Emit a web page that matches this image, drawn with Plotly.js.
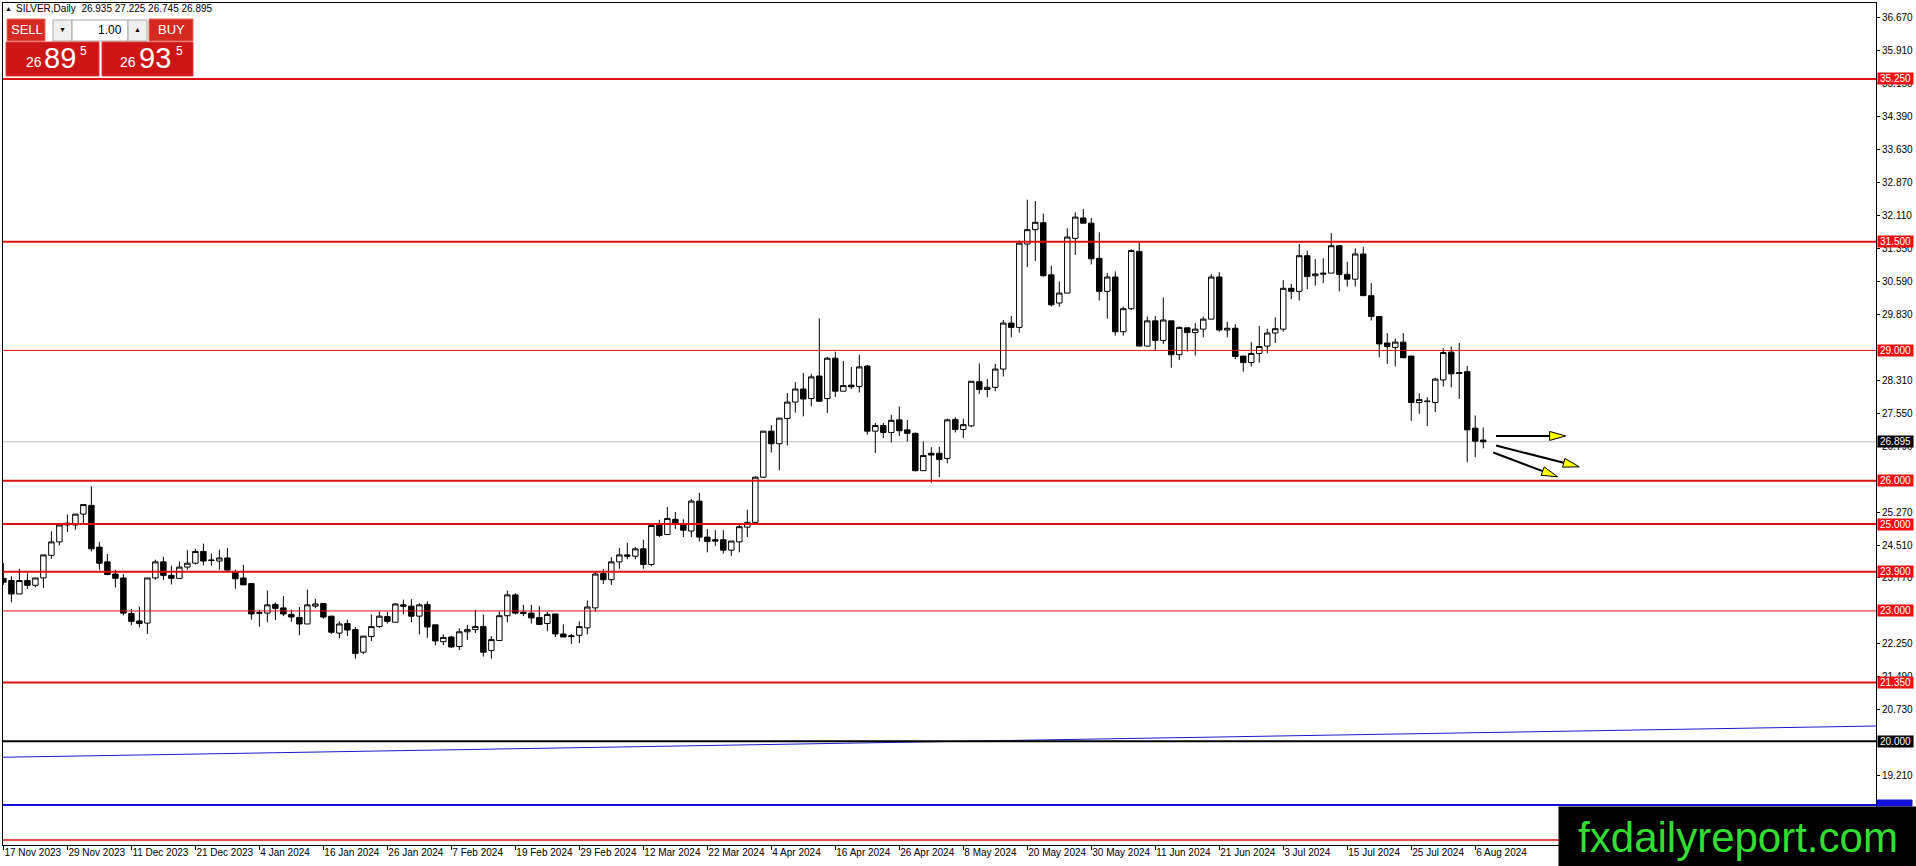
<!DOCTYPE html>
<html><head><meta charset="utf-8">
<script src="https://cdn.plot.ly/plotly-3.0.1.min.js"></script>
<style>html,body{margin:0;padding:0;background:#fff;overflow:hidden}#chart{width:1916px;height:866px}</style>
</head><body><div id="chart"></div>
<script>
// ---------------- DATA ----------------
const symbolTitle = 'SILVER,Daily';
const startDate = '2023-11-17';
const marketHolidays = ['2023-12-25', '2024-01-01', '2024-03-29'];
const tickDates = ['2023-11-17','2023-11-29','2023-12-11','2023-12-21','2024-01-04','2024-01-16','2024-01-26','2024-02-07','2024-02-19','2024-02-29','2024-03-12','2024-03-22','2024-04-04','2024-04-16','2024-04-26','2024-05-08','2024-05-20','2024-05-30','2024-06-11','2024-06-21','2024-07-03','2024-07-15','2024-07-25','2024-08-06'];
const tickLabels = ['17 Nov 2023','29 Nov 2023','11 Dec 2023','21 Dec 2023','4 Jan 2024','16 Jan 2024','26 Jan 2024','7 Feb 2024','19 Feb 2024','29 Feb 2024','12 Mar 2024','22 Mar 2024','4 Apr 2024','16 Apr 2024','26 Apr 2024','8 May 2024','20 May 2024','30 May 2024','11 Jun 2024','21 Jun 2024','3 Jul 2024','15 Jul 2024','25 Jul 2024','6 Aug 2024'];

const open = [23.75,23.70,23.39,23.70,23.59,23.76,24.28,24.59,24.98,24.98,25.23,25.43,24.47,24.13,23.85,23.76,22.94,22.77,22.72,23.76,
24.13,23.82,23.75,24.01,24.10,24.37,24.16,24.15,24.22,23.89,23.76,23.63,22.96,22.95,23.15,23.07,22.92,22.85,22.70,23.11,
23.17,22.88,22.49,22.71,22.57,22.05,22.41,22.64,22.87,22.74,23.14,23.11,22.88,23.15,22.68,22.29,22.40,22.18,22.52,22.57,
22.64,22.09,22.32,22.89,23.37,22.97,22.95,22.85,22.71,22.93,22.47,22.43,22.44,22.61,23.07,23.86,23.72,24.13,24.29,24.26,
24.43,24.07,24.97,24.76,25.11,25.01,24.84,25.53,24.70,24.64,24.64,24.40,24.59,24.93,25.04,26.08,27.14,26.85,27.43,27.81,
28.11,27.89,28.41,27.89,28.82,28.06,28.20,28.17,28.64,27.14,27.27,27.11,27.40,27.17,27.09,26.23,26.63,26.63,26.51,27.41,
27.18,27.26,28.28,28.10,28.15,28.57,29.63,29.53,31.45,31.78,31.94,30.74,30.09,30.32,31.58,32.05,31.93,31.12,30.36,30.69,
29.43,29.96,31.28,29.10,29.68,29.23,29.68,28.90,29.52,29.41,29.49,29.72,30.69,29.47,29.51,28.87,28.72,28.93,29.10,29.40,
29.49,30.43,30.36,31.18,30.72,30.78,30.78,31.41,30.75,30.64,31.22,30.26,29.78,29.17,29.07,29.19,28.87,27.80,27.82,27.80,
28.32,28.96,28.49,28.51,27.21,26.935];
const high = [24.10,23.80,23.97,23.87,23.76,24.29,24.83,24.98,25.22,25.23,25.45,25.87,24.59,24.31,23.95,23.85,23.05,23.10,23.76,24.18,
24.25,24.04,24.14,24.40,24.43,24.55,24.32,24.41,24.45,23.95,24.06,23.63,23.03,23.47,23.19,23.34,23.03,23.09,23.49,23.28,
23.17,22.88,22.76,22.80,22.63,22.42,22.92,22.99,22.98,23.18,23.26,23.27,23.18,23.22,22.68,22.46,22.42,22.60,22.68,23.03,
22.92,22.42,22.99,23.47,23.41,23.14,23.14,23.11,22.98,22.93,22.69,22.47,22.76,23.24,23.89,23.97,24.24,24.45,24.57,24.47,
24.64,24.97,25.10,25.39,25.28,25.11,25.58,25.72,24.89,24.86,24.86,24.61,24.98,25.33,26.10,27.14,27.28,27.44,28.02,28.27,
28.48,28.46,29.74,28.85,28.97,28.76,28.62,28.90,28.66,27.33,27.33,27.52,27.71,27.40,27.11,26.90,26.77,26.78,27.43,27.46,
27.43,28.29,28.70,28.34,28.69,29.70,29.79,31.53,32.47,32.44,32.15,30.95,30.59,31.81,32.18,32.26,32.05,31.72,30.78,30.82,
30.01,31.33,31.48,29.78,29.79,30.22,29.68,29.55,29.52,29.63,29.78,30.76,30.80,29.66,29.60,28.87,29.19,29.56,29.50,29.76,
30.62,30.53,31.45,31.30,31.10,31.12,31.70,31.41,31.04,31.35,31.39,30.55,29.79,29.40,29.27,29.40,28.87,28.01,27.92,28.37,
29.05,29.09,29.17,28.64,27.50,27.225];
const low = [23.60,23.20,23.39,23.51,23.54,23.53,24.20,24.51,24.82,24.87,25.02,24.37,23.94,23.82,23.54,22.90,22.67,22.62,22.47,23.72,
23.71,23.61,23.74,23.95,24.07,24.05,24.04,23.95,23.91,23.51,23.60,22.80,22.64,22.74,22.79,22.88,22.75,22.44,22.70,23.06,
22.82,22.47,22.37,22.42,21.90,22.01,22.31,22.61,22.71,22.73,22.92,22.74,22.46,22.38,22.21,22.21,22.15,22.10,22.33,22.49,
21.95,21.90,22.31,22.74,22.92,22.88,22.71,22.69,22.53,22.40,22.40,22.24,22.26,22.46,22.98,23.62,23.60,23.97,24.19,24.19,
23.97,24.03,24.70,24.75,24.89,24.70,24.70,24.60,24.35,24.50,24.32,24.27,24.35,24.70,25.04,26.06,26.65,26.24,26.81,27.57,
27.48,27.71,27.83,27.56,27.93,28.06,28.11,28.03,27.06,26.64,26.98,26.88,27.03,26.90,26.21,26.23,25.95,26.08,26.40,27.11,
26.98,27.23,28.00,27.92,28.06,28.40,29.30,29.41,30.92,31.06,30.70,30.01,30.01,30.32,31.20,31.93,30.98,30.15,29.73,29.34,
29.34,29.93,29.09,29.09,29.00,29.15,28.60,28.78,28.97,28.88,29.30,29.72,29.43,29.30,28.80,28.51,28.63,28.72,28.93,29.17,
29.43,30.18,30.15,30.41,30.49,30.55,30.78,30.36,30.47,30.47,30.26,29.69,28.84,28.69,28.63,28.83,27.38,27.54,27.26,27.58,
28.17,28.15,27.88,26.42,26.54,26.745];
const close = [23.66,23.39,23.70,23.59,23.76,24.29,24.59,24.98,25.02,25.23,25.45,24.43,24.10,23.84,23.75,22.95,22.76,22.71,23.76,24.13,
23.82,23.75,24.01,24.10,24.37,24.15,24.17,24.22,23.94,23.74,23.60,22.93,22.95,23.14,23.06,22.93,22.86,22.70,23.14,23.16,
22.86,22.51,22.70,22.56,22.02,22.42,22.64,22.88,22.76,23.16,23.11,22.88,23.14,22.63,22.31,22.39,22.17,22.52,22.57,22.64,
22.05,22.34,22.89,23.37,22.95,22.94,22.84,22.69,22.92,22.47,22.40,22.41,22.64,23.09,23.85,23.72,24.13,24.29,24.26,24.43,
24.07,24.97,24.74,25.13,25.01,24.86,25.53,24.70,24.60,24.61,24.40,24.61,24.94,25.04,26.08,27.14,26.85,27.44,27.81,28.11,
27.88,28.39,27.83,28.82,28.06,28.19,28.16,28.62,27.14,27.27,27.11,27.39,27.15,27.09,26.23,26.58,26.59,26.49,27.40,27.18,
27.29,28.29,28.10,28.15,28.57,29.63,29.53,31.47,31.78,31.95,30.72,30.05,30.32,31.61,32.07,31.93,31.11,30.36,30.69,29.43,
29.96,31.30,29.10,29.68,29.23,29.70,28.90,29.53,29.41,29.49,29.72,30.69,29.47,29.51,28.86,28.72,28.93,29.09,29.40,29.50,
30.43,30.36,31.18,30.70,30.76,30.76,31.41,30.75,30.64,31.22,30.26,29.78,29.15,29.09,29.19,28.83,27.80,27.87,27.83,28.34,
28.95,28.46,28.47,27.17,26.91,26.895];

const redLevels = [35.25, 31.5, 29.0, 26.0, 25.0, 23.9, 23.0, 21.35];
const thinRedLevels = [29.0, 23.0];
const lowerRedLevel = 17.725;
const blackLevel = 20.0;
const blueLevel = 18.53;
const trendLineStartEnd = [19.63, 20.35];
const currentPrice = 26.895;
const askPrice = 26.935;
const yTickValues = [36.67,35.91,35.15,34.39,33.63,32.87,32.11,31.35,30.59,29.83,28.31,27.55,26.79,25.27,24.51,23.77,22.25,21.49,20.73,19.21];
// forecast arrows: [startBar, startPrice, tipBar, tipPrice]
const forecastArrows = [[186.6, 27.03, 195.3, 27.03], [186.6, 26.81, 197.0, 26.32], [186.25, 26.65, 194.3, 26.09]];
const watermarkText = 'fxdailyreport.com';

// ---------------- BUILD ----------------
function buildDates(start, n, holidays) {
  const out = []; const d = new Date(start + 'T00:00:00Z');
  while (out.length < n) {
    const wd = d.getUTCDay(); const iso = d.toISOString().slice(0, 10);
    if (wd !== 0 && wd !== 6 && !holidays.includes(iso)) out.push(iso);
    d.setUTCDate(d.getUTCDate() + 1);
  }
  return out;
}
const dates = buildDates(startDate, close.length, marketHolidays);

const W = 1916, H = 866, ML = 3, MR = 40, MT = 3, MB = 21;
const PW = W - ML - MR, PH = H - MT - MB;
const xr = [-0.05, 234.1], yr = [17.61, 37.0];
const px = x => (x - ML) / PW;
const py = y => (MT + PH - y) / PH;
const pxPerX = PW / (xr[1] - xr[0]), pxPerY = PH / (yr[1] - yr[0]);
const FONT = 'Liberation Sans, Arial, sans-serif';

const trace = {
  type: 'candlestick', x: dates, open: open, high: high, low: low, close: close,
  increasing: {line: {color: '#000', width: 1}, fillcolor: '#ffffff'},
  decreasing: {line: {color: '#000', width: 1}, fillcolor: '#000000'},
  whiskerwidth: 0, hoverinfo: 'none', showlegend: false
};

const shapes = [];
const annotations = [];
shapes.push({type: 'line', xref: 'paper', x0: 0, x1: 1, yref: 'y', y0: currentPrice, y1: currentPrice, line: {color: '#c0c0c0', width: 1}, layer: 'below'});
shapes.push({type: 'line', xref: 'x', x0: xr[0], x1: xr[1], yref: 'y', y0: trendLineStartEnd[0], y1: trendLineStartEnd[1], line: {color: '#1a1ac8', width: 1}, layer: 'above'});
shapes.push({type: 'line', xref: 'paper', x0: 0, x1: 1, yref: 'y', y0: blackLevel, y1: blackLevel, line: {color: '#000', width: 2}, layer: 'above'});
shapes.push({type: 'line', xref: 'paper', x0: 0, x1: 1, yref: 'y', y0: blueLevel, y1: blueLevel, line: {color: '#1010d8', width: 2}, layer: 'above'});
redLevels.forEach(v => {
  shapes.push({type: 'line', xref: 'paper', x0: 0, x1: 1, yref: 'y', y0: v, y1: v, line: {color: '#dd1111', width: thinRedLevels.includes(v) ? 1 : 2}, layer: 'above'});
});
shapes.push({type: 'line', xref: 'paper', x0: 0, x1: 1, yref: 'y', y0: lowerRedLevel, y1: lowerRedLevel, line: {color: '#dd1111', width: 1.5}, layer: 'above'});

forecastArrows.forEach(a => {
  const [x0, y0, x1, y1] = a;
  const dx = (x1 - x0) * pxPerX, dy = -(y1 - y0) * pxPerY;
  const len = Math.hypot(dx, dy), ux = dx / len, uy = dy / len;
  const L = 16, Wd = 4.5;
  const bx = -L * ux, by = -L * uy;
  const c1 = [bx - Wd * uy, by + Wd * ux], c2 = [bx + Wd * uy, by - Wd * ux];
  const toD = p => [x1 + p[0] / pxPerX, y1 - p[1] / pxPerY];
  const b = toD([bx, by]), p1 = toD(c1), p2 = toD(c2);
  shapes.push({type: 'line', xref: 'x', yref: 'y', x0: x0, y0: y0, x1: b[0], y1: b[1], line: {color: '#000', width: 2}, layer: 'above'});
  shapes.push({type: 'path', xref: 'x', yref: 'y', path: `M ${x1},${y1} L ${p1[0]},${p1[1]} L ${p2[0]},${p2[1]} Z`, fillcolor: '#ffff00', line: {color: '#000', width: 1}, layer: 'above'});
});

function axisLabel(v, bg) {
  annotations.push({xref: 'paper', x: px(1877), xanchor: 'left', yref: 'y', y: v, yanchor: 'middle',
    text: v.toFixed(3), showarrow: false, bgcolor: bg, width: 34, height: 10, borderpad: 0.5, align: 'center',
    font: {family: FONT, size: 10, color: '#ffffff'}});
}
redLevels.forEach(v => axisLabel(v, '#ee1111'));
axisLabel(currentPrice, '#000000');
axisLabel(blackLevel, '#000000');

function rect(x0, y0, x1, y1, fill, line) {
  shapes.push({type: 'rect', xref: 'paper', yref: 'paper', x0: px(x0), x1: px(x1), y0: py(y1), y1: py(y0), fillcolor: fill, line: {color: line || fill, width: 1}, layer: 'above'});
}
function txt(t, x, y, size, color, xanchor) {
  annotations.push({xref: 'paper', yref: 'paper', x: px(x), y: py(y), xanchor: xanchor || 'center', yanchor: 'middle', text: t, showarrow: false, font: {family: FONT, size: size, color: color}});
}
// small blue price marker of the blue line (mostly hidden by the watermark)
rect(1877, 800, 1912, 806, '#1010d8');

const lastIdx = close.length - 1;
txt('▲', 8, 8, 7, '#000');
txt(symbolTitle + '\u00a0\u00a0' + open[lastIdx].toFixed(3) + ' ' + high[lastIdx].toFixed(3) + ' ' + low[lastIdx].toFixed(3) + ' ' + close[lastIdx].toFixed(3), 14, 8, 10, '#000', 'left');
rect(7, 19, 45, 41, '#d42a22', '#e86a60');
rect(53, 20, 72, 41, '#f0f0f0', '#a8a8a8');
rect(72, 20, 128, 41, '#ffffff', '#a8a8a8');
rect(128, 20, 147, 41, '#f0f0f0', '#a8a8a8');
rect(149, 19, 193, 41, '#d42a22', '#e86a60');
rect(6, 42, 99, 76, '#cc1515', '#e04040');
rect(102, 42, 193, 76, '#cc1515', '#e04040');
txt('SELL', 27, 30, 13, '#fff');
txt('▼', 62.5, 30, 7, '#000');
txt('1.00', 124, 30, 12, '#000', 'right');
txt('▲', 137.5, 30, 7, '#000');
txt('BUY', 171, 30, 13, '#fff');
function priceParts(p) { const s = p.toFixed(3); return [s.slice(0, 2), s.slice(3, 5), s.slice(5)]; }
const sp = priceParts(currentPrice), bp = priceParts(askPrice);
txt(sp[0], 34, 62, 14, '#fff'); txt(sp[1], 60, 58, 29, '#fff'); txt(sp[2], 83, 51, 12, '#fff');
txt(bp[0], 128, 62, 14, '#fff'); txt(bp[1], 155, 58, 29, '#fff'); txt(bp[2], 179, 51, 12, '#fff');

annotations.push({xref: 'paper', yref: 'paper', x: px(1558), y: py(806), xanchor: 'left', yanchor: 'top',
  width: 358, height: 60, borderpad: 0, bgcolor: '#000000', text: watermarkText, showarrow: false, align: 'center', valign: 'middle',
  font: {family: FONT, size: 42, color: '#33dd33'}});

const layout = {
  width: W, height: H, margin: {l: ML, r: MR, t: MT, b: MB, pad: 0},
  paper_bgcolor: '#ffffff', plot_bgcolor: '#ffffff', showlegend: false,
  font: {family: FONT, size: 10, color: '#000'},
  boxgap: 0.15, boxgroupgap: 0.2,
  xaxis: {type: 'category', range: xr, rangeslider: {visible: false}, showgrid: false, zeroline: false,
    showline: true, mirror: true, linecolor: '#000', linewidth: 1, ticks: 'outside', ticklen: 4, tickcolor: '#000',
    tickvals: tickDates, ticktext: tickLabels, ticklabelposition: 'outside right', tickangle: 0, ticklabelstandoff: -2,
    tickfont: {family: FONT, size: 10, color: '#000'}, fixedrange: true},
  yaxis: {side: 'right', range: yr, showgrid: false, zeroline: false, showline: true, mirror: true,
    linecolor: '#000', linewidth: 1, ticks: 'outside', ticklen: 3, tickcolor: '#000',
    tickvals: yTickValues, ticktext: yTickValues.map(v => v.toFixed(3)),
    tickfont: {family: FONT, size: 10, color: '#000'}, fixedrange: true},
  shapes: shapes, annotations: annotations
};
Plotly.newPlot('chart', [trace], layout, {displayModeBar: false, staticPlot: true});
</script></body></html>
